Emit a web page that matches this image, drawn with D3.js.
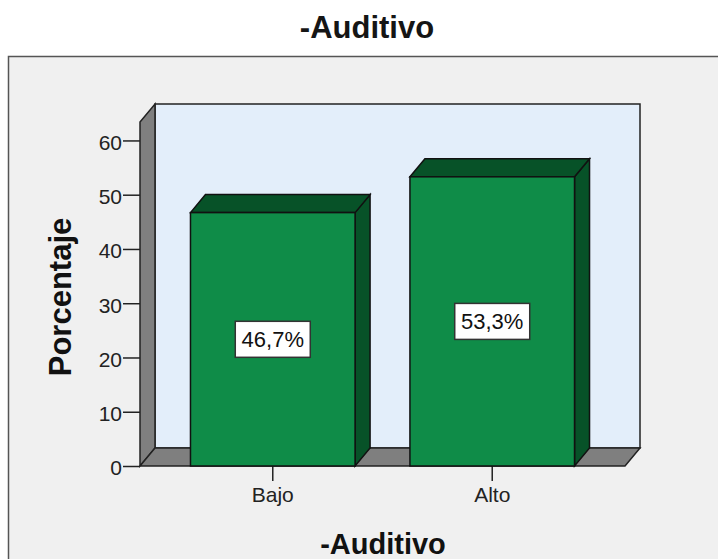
<!DOCTYPE html>
<html>
<head>
<meta charset="utf-8">
<script src="https://cdn.jsdelivr.net/npm/d3@7"></script>
<style>
  body { margin: 0; background: #fff; }
  text { font-family: "Liberation Sans", Arial, sans-serif; }
</style>
</head>
<body>
<div id="chart"></div>
<script>
// data
const categories = ["Bajo", "Alto"];
const percents = [46.7, 53.3];
const labels = ["46,7%", "53,3%"];
const yTicks = [0, 10, 20, 30, 40, 50, 60];

const width = 718;
const height = 559;
const depthX = 15;   // 3d offset of the back plane
const depthY = 18;
const fontFam = "'Liberation Sans', Arial, sans-serif";

const svg = d3.select("#chart")
    .append("svg")
    .attr("width", width)
    .attr("height", height);

// chart title
svg.append("text")
    .attr("x", 367)
    .attr("y", 38)
    .attr("text-anchor", "middle")
    .attr("font-size", "31px")
    .attr("font-weight", "bold")
    .attr("fill", "#151515")
    .text("-Auditivo");

// grey frame around the plot area
svg.append("rect")
    .attr("x", 8.5)
    .attr("y", 56.5)
    .attr("width", 740)
    .attr("height", 540)
    .attr("fill", "#f0f0f0")
    .attr("stroke", "#555")
    .attr("stroke-width", 1.5);

const x0 = 140, x1 = 625, yBase = 466;

let yScale = d3.scaleLinear()
    .domain([0, 63.4])
    .range([yBase, 122]);

let xScale = d3.scaleBand()
    .domain(categories)
    .range([x0, x1])
    .paddingInner(0.25)
    .paddingOuter(0.23);

const topY = yScale(63.4);
const line = d3.line();

// back wall
svg.append("path")
    .attr("d", line([[x0 + depthX, topY - depthY], [x1 + depthX, topY - depthY],
                     [x1 + depthX, yBase - depthY], [x0 + depthX, yBase - depthY]]) + "Z")
    .attr("fill", "#e3eefa")
    .attr("stroke", "#222")
    .attr("stroke-width", 1.5);

// left wall
svg.append("path")
    .attr("d", line([[x0, topY], [x0 + depthX, topY - depthY],
                     [x0 + depthX, yBase - depthY], [x0, yBase]]) + "Z")
    .attr("fill", "#7f7f7f")
    .attr("stroke", "#222")
    .attr("stroke-width", 1.5);

// floor
svg.append("path")
    .attr("d", line([[x0, yBase], [x1, yBase],
                     [x1 + depthX, yBase - depthY], [x0 + depthX, yBase - depthY]]) + "Z")
    .attr("fill", "#7f7f7f")
    .attr("stroke", "#222")
    .attr("stroke-width", 1.5);

// y axis
const yAxis = svg.append("g")
    .attr("transform", `translate(${x0}, 0)`)
    .call(d3.axisLeft(yScale).tickValues(yTicks).tickSize(17).tickPadding(1).tickFormat(d3.format("d")));
yAxis.select(".domain").remove();
yAxis.selectAll("line").attr("stroke", "#222").attr("stroke-width", 1.5);
yAxis.selectAll("text").attr("font-size", "21px").attr("fill", "#222")
    .attr("font-family", fontFam).attr("dy", "0.42em");

// x axis
const xAxis = svg.append("g")
    .attr("transform", `translate(0, ${yBase})`)
    .call(d3.axisBottom(xScale).tickSize(15).tickPadding(6));
xAxis.select(".domain").remove();
xAxis.selectAll("line").attr("stroke", "#222").attr("stroke-width", 1.5);
xAxis.selectAll("text").attr("font-size", "21px").attr("fill", "#222")
    .attr("font-family", fontFam);

// bars
const bars = svg.selectAll(".bar")
    .data(percents)
    .enter()
    .append("g")
    .attr("class", "bar");

bars.append("path")
    .attr("d", (d, i) => {
        const bx = xScale(categories[i]), bw = xScale.bandwidth(), by = yScale(d);
        return line([[bx + bw, by], [bx + bw + depthX, by - depthY],
                     [bx + bw + depthX, yBase - depthY], [bx + bw, yBase]]) + "Z";
    })
    .attr("fill", "#075228")
    .attr("stroke", "#111")
    .attr("stroke-width", 1.5);

bars.append("path")
    .attr("d", (d, i) => {
        const bx = xScale(categories[i]), bw = xScale.bandwidth(), by = yScale(d);
        return line([[bx, by], [bx + depthX, by - depthY],
                     [bx + bw + depthX, by - depthY], [bx + bw, by]]) + "Z";
    })
    .attr("fill", "#075228")
    .attr("stroke", "#111")
    .attr("stroke-width", 1.5);

bars.append("rect")
    .attr("x", (d, i) => xScale(categories[i]))
    .attr("y", (d) => yScale(d))
    .attr("width", xScale.bandwidth())
    .attr("height", (d) => yBase - yScale(d))
    .attr("fill", "#0f8c48")
    .attr("stroke", "#111")
    .attr("stroke-width", 1.5);

// value labels in white boxes
const boxW = 75, boxH = 36;
bars.append("rect")
    .attr("x", (d, i) => xScale(categories[i]) + xScale.bandwidth() / 2 - boxW / 2)
    .attr("y", (d) => (yScale(d) + yBase) / 2 - boxH / 2)
    .attr("width", boxW)
    .attr("height", boxH)
    .attr("fill", "#fff")
    .attr("stroke", "#333")
    .attr("stroke-width", 1.5);

bars.append("text")
    .attr("x", (d, i) => xScale(categories[i]) + xScale.bandwidth() / 2)
    .attr("y", (d) => (yScale(d) + yBase) / 2 + 8)
    .attr("text-anchor", "middle")
    .attr("font-size", "22px")
    .attr("fill", "#111")
    .text((d, i) => labels[i]);

// axis titles
svg.append("text")
    .attr("transform", "translate(71, 297) rotate(-90)")
    .attr("text-anchor", "middle")
    .attr("font-size", "31px")
    .attr("font-weight", "bold")
    .attr("fill", "#111")
    .text("Porcentaje");

svg.append("text")
    .attr("x", 383)
    .attr("y", 554)
    .attr("text-anchor", "middle")
    .attr("font-size", "29px")
    .attr("font-weight", "bold")
    .attr("fill", "#111")
    .text("-Auditivo");
</script>
</body>
</html>
